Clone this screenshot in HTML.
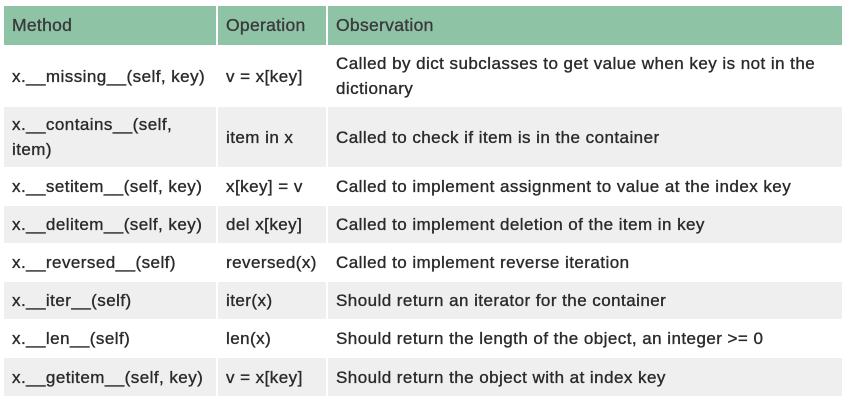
<!DOCTYPE html>
<html><head><style>
body{margin:0;width:851px;height:405px;background:#fff;position:relative;font-family:"Liberation Sans",Arial,sans-serif;color:#2a2a2a;}
.c{position:absolute;box-sizing:border-box;display:flex;align-items:center;padding-left:8px;padding-right:4px;font-size:17px;line-height:25px;letter-spacing:0.45px;-webkit-text-stroke:0.35px #2a2a2a;}
.h{background:#8fc3a6;font-size:17.5px;color:#3a3a3a;letter-spacing:0.3px;-webkit-text-stroke:0.35px #3a3a3a;}
.g{background:#efefef;}
</style></head><body>
<div class="c h" style="left:4px;top:6px;width:212px;height:39px">Method</div>
<div class="c h" style="left:218px;top:6px;width:108px;height:39px">Operation</div>
<div class="c h" style="left:328px;top:6px;width:514px;height:39px">Observation</div>

<div class="c" style="left:4px;top:46px;width:212px;height:60px">x.__missing__(self, key)</div>
<div class="c" style="left:218px;top:46px;width:108px;height:60px">v = x[key]</div>
<div class="c" style="left:328px;top:46px;width:514px;height:60px">Called by dict subclasses to get value when key is not in the<br>dictionary</div>

<div class="c g" style="left:4px;top:107px;width:212px;height:60px">x.__contains__(self,<br>item)</div>
<div class="c g" style="left:218px;top:107px;width:108px;height:60px">item in x</div>
<div class="c g" style="left:328px;top:107px;width:514px;height:60px">Called to check if item is in the container</div>

<div class="c" style="left:4px;top:168px;width:212px;height:37px">x.__setitem__(self, key)</div>
<div class="c" style="left:218px;top:168px;width:108px;height:37px">x[key] = v</div>
<div class="c" style="left:328px;top:168px;width:514px;height:37px">Called to implement assignment to value at the index key</div>

<div class="c g" style="left:4px;top:206px;width:212px;height:37px">x.__delitem__(self, key)</div>
<div class="c g" style="left:218px;top:206px;width:108px;height:37px">del x[key]</div>
<div class="c g" style="left:328px;top:206px;width:514px;height:37px">Called to implement deletion of the item in key</div>

<div class="c" style="left:4px;top:244px;width:212px;height:37px">x.__reversed__(self)</div>
<div class="c" style="left:218px;top:244px;width:108px;height:37px">reversed(x)</div>
<div class="c" style="left:328px;top:244px;width:514px;height:37px">Called to implement reverse iteration</div>

<div class="c g" style="left:4px;top:282px;width:212px;height:37px">x.__iter__(self)</div>
<div class="c g" style="left:218px;top:282px;width:108px;height:37px">iter(x)</div>
<div class="c g" style="left:328px;top:282px;width:514px;height:37px">Should return an iterator for the container</div>

<div class="c" style="left:4px;top:320px;width:212px;height:37px">x.__len__(self)</div>
<div class="c" style="left:218px;top:320px;width:108px;height:37px">len(x)</div>
<div class="c" style="left:328px;top:320px;width:514px;height:37px">Should return the length of the object, an integer &gt;= 0</div>

<div class="c g" style="left:4px;top:358px;width:212px;height:38px">x.__getitem__(self, key)</div>
<div class="c g" style="left:218px;top:358px;width:108px;height:38px">v = x[key]</div>
<div class="c g" style="left:328px;top:358px;width:514px;height:38px">Should return the object with at index key</div>
</body></html>
